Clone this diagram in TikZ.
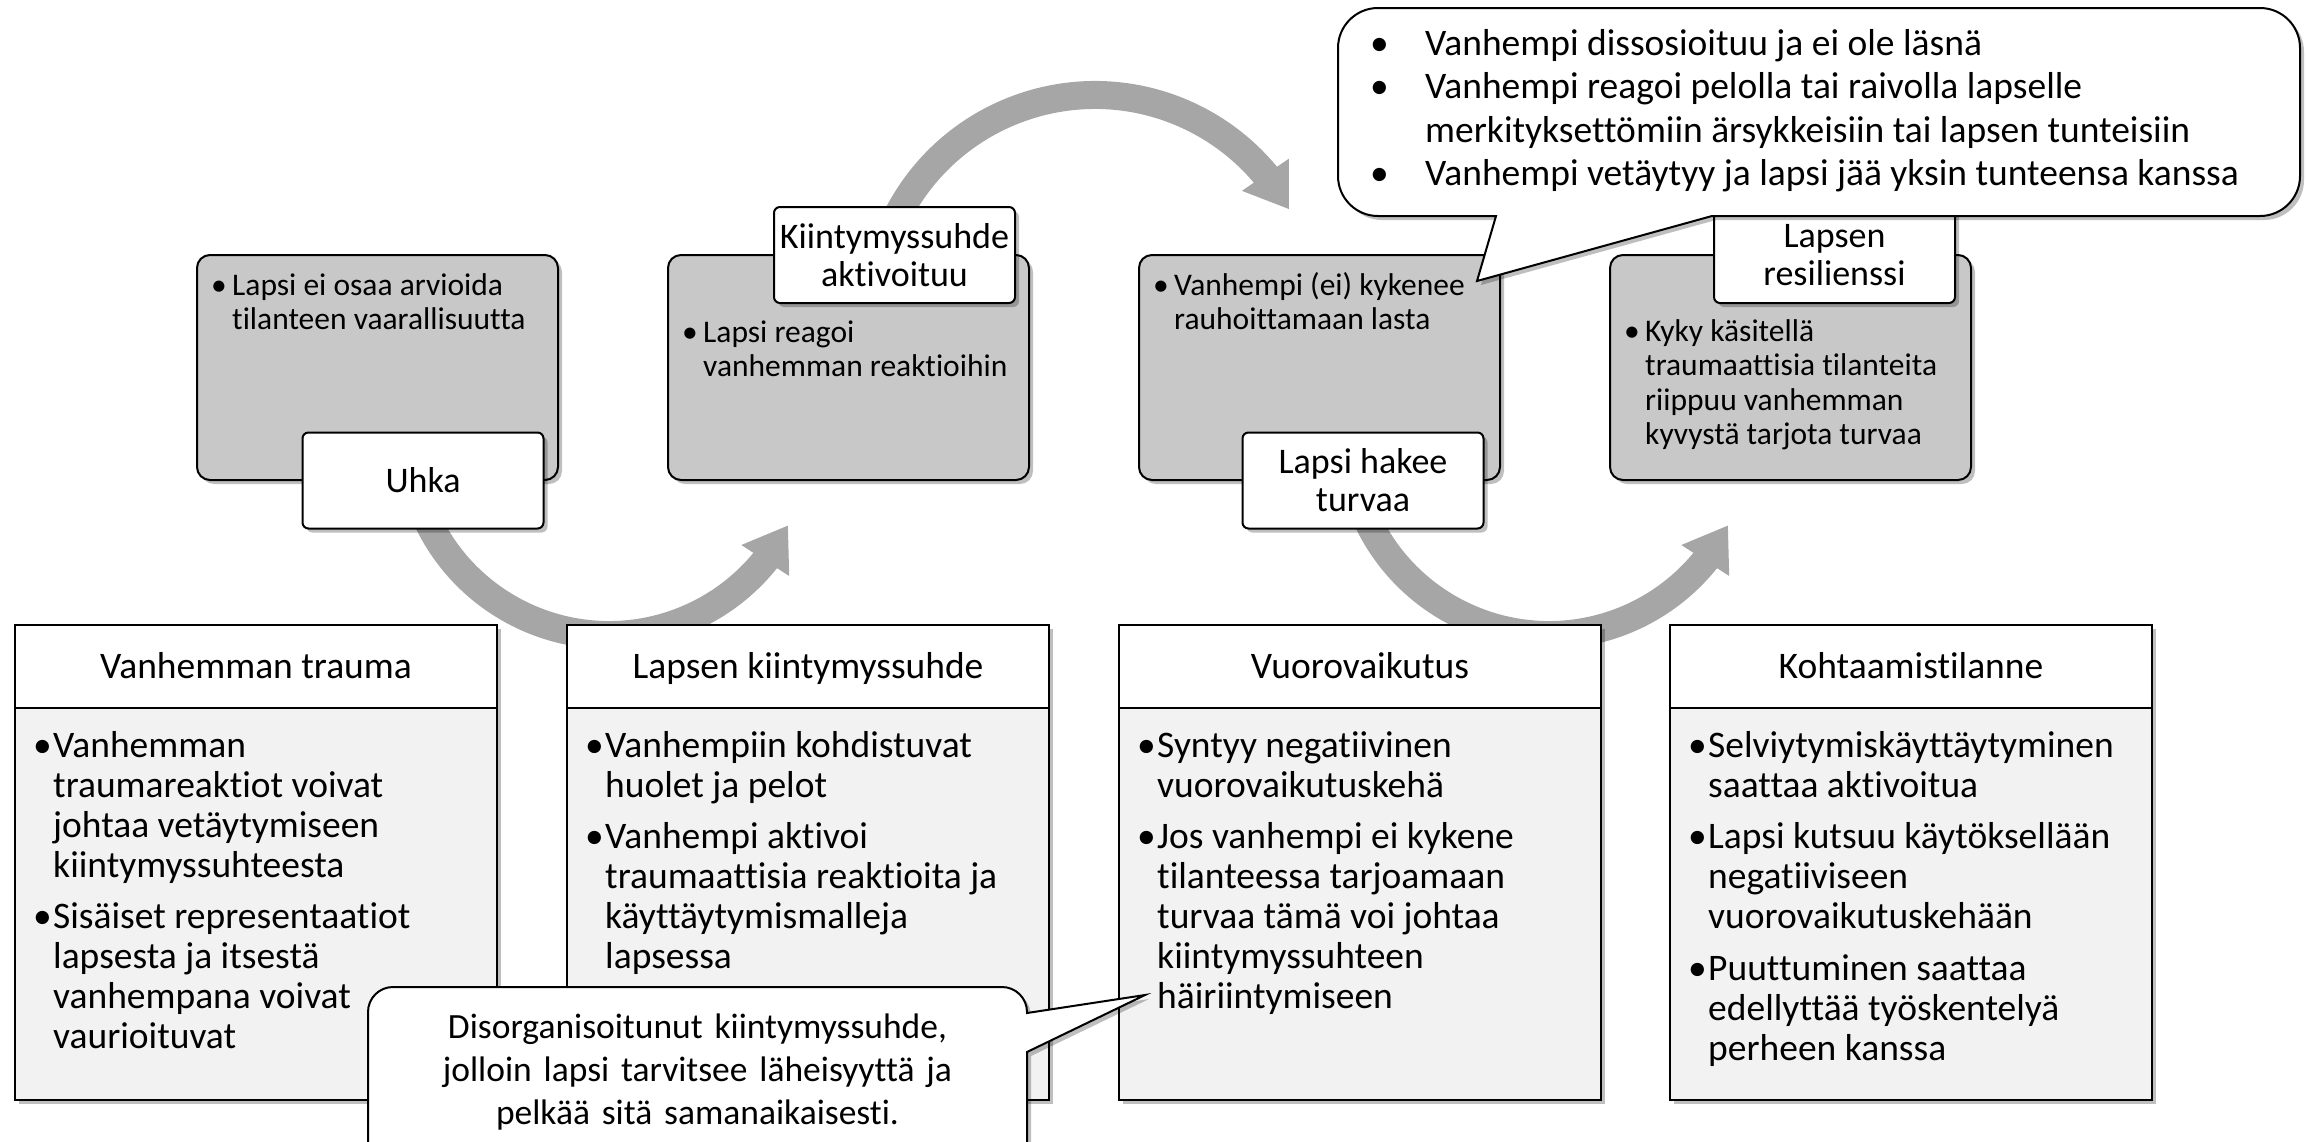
\documentclass[tikz,border=0pt]{standalone}
\usepackage{fontspec}
\setmainfont{Carlito}[Ligatures=CommonOff]
\usetikzlibrary{arrows.meta,bending,shadows}
\definecolor{arrowgray}{HTML}{A6A6A6}
\definecolor{boxgray}{HTML}{C8C8C8}
\definecolor{bodygray}{HTML}{F2F2F2}
\newlength\bhang
\newcommand{\bitem}[1]{\makebox[\bhang][l]{•}\begin{tabular}[t]{@{}l@{}}#1\end{tabular}}
\newcommand{\blist}[2]{\setlength\bhang{#1}\begin{tabular}[t]{@{}l@{}}#2\end{tabular}}
\newcommand{\bgap}{\\\noalign{\vskip 11.5pt}}
\tikzset{
  shd/.style={drop shadow={shadow xshift=4pt,shadow yshift=-4pt,opacity=0.25,fill=black}},
  bigarrow/.style={draw=arrowgray,line width=28pt,-{Triangle[length=42pt,width=54pt,flex]}},
  gbox/.style={draw,line width=2pt,fill=boxgray,rounded corners=13pt,minimum width=361pt,minimum height=225pt,inner sep=0pt,shd},
  lbl/.style={draw,line width=2pt,fill=white,rounded corners=6pt,minimum width=241pt,minimum height=96pt,inner sep=0pt,align=center,font=\fontsize{36}{38}\selectfont,shd},
  tbox/.style={draw,line width=2pt,fill=bodygray,minimum width=482pt,minimum height=475pt,inner sep=0pt,shd},
  hdr/.style={draw,line width=2pt,fill=white,minimum width=482pt,minimum height=83pt,inner sep=0pt},
  hdrtext/.style={anchor=base,inner sep=0pt,font=\fontsize{37.5}{40}\selectfont},
  bodytext/.style={anchor=base west,inner sep=0pt,font=\fontsize{37.5}{40}\selectfont},
  gtext/.style={anchor=base west,inner sep=0pt,font=\fontsize{31.5}{34.5}\selectfont},
  bubble/.style={draw,line width=2pt,fill=white,line join=miter,shd},
}
\begin{document}
\begin{tikzpicture}[x=1pt,y=-1pt]
\useasboundingbox (0,0) rectangle (2307,1141);
\clip (0,0) rectangle (2307,1141);

% circular arrows
\coordinate (ca1) at (609,434);
\coordinate (ca2) at (1095,317);
\coordinate (ca3) at (1549,434);
\draw[bigarrow] (ca1) ++(158:201) arc[start angle=158,end angle=27,radius=201];
\draw[bigarrow] (ca2) ++(205:222) arc[start angle=205,end angle=331,radius=222];
\draw[bigarrow] (ca3) ++(158:201) arc[start angle=158,end angle=27,radius=201];

% gray rounded boxes
\node[gbox] (g1) at (377.5,367.5) {};
\node[gbox] (g2) at (848.5,367.5) {};
\node[gbox] (g3) at (1319.5,367.5) {};
\node[gbox] (g4) at (1790.5,367.5) {};

\node[gtext] (g1t) at (211,295) {\blist{21pt}{\bitem{Lapsi ei osaa arvioida\\tilanteen vaarallisuutta}}};
\node[gtext] (g2t) at (682,342) {\blist{21pt}{\bitem{Lapsi reagoi\\vanhemman reaktioihin}}};
\node[gtext] (g3t) at (1153,295) {\blist{21pt}{\bitem{Vanhempi (ei) kykenee\\rauhoittamaan lasta}}};
\node[gtext] (g4t) at (1624,341) {\blist{21pt}{\bitem{Kyky käsitellä\\traumaattisia tilanteita\\riippuu vanhemman\\kyvystä tarjota turvaa}}};

% labels
\node[lbl] (l1) at (423,480.5) {Uhka};
\node[lbl] (l2) at (894.5,255) {Kiintymyssuhde\\aktivoituu};
\node[lbl] (l3) at (1363,480.5) {Lapsi hakee\\turvaa};
\node[lbl] (l4) at (1834.5,255) {Lapsen\\resilienssi};

% bottom boxes
\node[tbox] (b1) at (256,862.5) {};
\node[hdr] (h1) at (256,666.5) {};
\node[tbox] (b2) at (808,862.5) {};
\node[hdr] (h2) at (808,666.5) {};
\node[tbox] (b3) at (1360,862.5) {};
\node[hdr] (h3) at (1360,666.5) {};
\node[tbox] (b4) at (1911,862.5) {};
\node[hdr] (h4) at (1911,666.5) {};

\node[hdrtext] (h1t) at (256,678) {Vanhemman trauma};
\node[hdrtext] (h2t) at (808,678) {Lapsen kiintymyssuhde};
\node[hdrtext] (h3t) at (1360,678) {Vuorovaikutus};
\node[hdrtext] (h4t) at (1911,678) {Kohtaamistilanne};

\node[bodytext] (b1t) at (33,757) {\blist{20pt}{%
\bitem{Vanhemman\\traumareaktiot voivat\\johtaa vetäytymiseen\\kiintymyssuhteesta}\bgap
\bitem{Sisäiset representaatiot\\lapsesta ja itsestä\\vanhempana voivat\\vaurioituvat}}};
\node[bodytext] (b2t) at (585,757) {\blist{20pt}{%
\bitem{Vanhempiin kohdistuvat\\huolet ja pelot}\bgap
\bitem{Vanhempi aktivoi\\traumaattisia reaktioita ja\\käyttäytymismalleja\\lapsessa}}};
\node[bodytext] (b3t) at (1137,757) {\blist{20pt}{%
\bitem{Syntyy negatiivinen\\vuorovaikutuskehä}\bgap
\bitem{Jos vanhempi ei kykene\\tilanteessa tarjoamaan\\turvaa tämä voi johtaa\\kiintymyssuhteen\\häiriintymiseen}}};
\node[bodytext] (b4t) at (1688,757) {\blist{20pt}{%
\bitem{Selviytymiskäyttäytyminen\\saattaa aktivoitua}\bgap
\bitem{Lapsi kutsuu käytöksellään\\negatiiviseen\\vuorovaikutuskehään}\bgap
\bitem{Puuttuminen saattaa\\edellyttää työskentelyä\\perheen kanssa}}};

% top callout
\draw[bubble] (1378,8) -- (2260,8) arc[start angle=270,end angle=360,radius=40]
  -- (2300,176) arc[start angle=0,end angle=90,radius=40]
  -- (1712,216) -- (1477,281) -- (1496,216)
  -- (1378,216) arc[start angle=90,end angle=180,radius=40]
  -- (1338,48) arc[start angle=180,end angle=270,radius=40] -- cycle;
\node[anchor=base west,inner sep=0pt,font=\fontsize{37.5}{43.5}\selectfont] (c1t) at (1370,55)
 {\blist{55pt}{%
 \bitem{Vanhempi dissosioituu ja ei ole läsnä}\\
 \bitem{Vanhempi reagoi pelolla tai raivolla lapselle\\merkityksettömiin ärsykkeisiin tai lapsen tunteisiin}\\
 \bitem{Vanhempi vetäytyy ja lapsi jää yksin tunteensa kanssa}}};

% bottom callout
\draw[bubble] (393,987) -- (1002,987) arc[start angle=270,end angle=360,radius=25]
  -- (1027,1013) -- (1145,995) -- (1027,1052)
  -- (1027,1175) arc[start angle=0,end angle=90,radius=25]
  -- (393,1200) arc[start angle=90,end angle=180,radius=25]
  -- (368,1012) arc[start angle=180,end angle=270,radius=25] -- cycle;
\node[anchor=base,inner sep=0pt,text width=640pt,align=center,font=\fontsize{35.5}{43}\selectfont] (c2t) at (697.5,1038)
 {Disorganisoitunut kiintymyssuhde,\\ jolloin lapsi tarvitsee läheisyyttä ja\\ pelkää sitä samanaikaisesti.};
\end{tikzpicture}
\end{document}
